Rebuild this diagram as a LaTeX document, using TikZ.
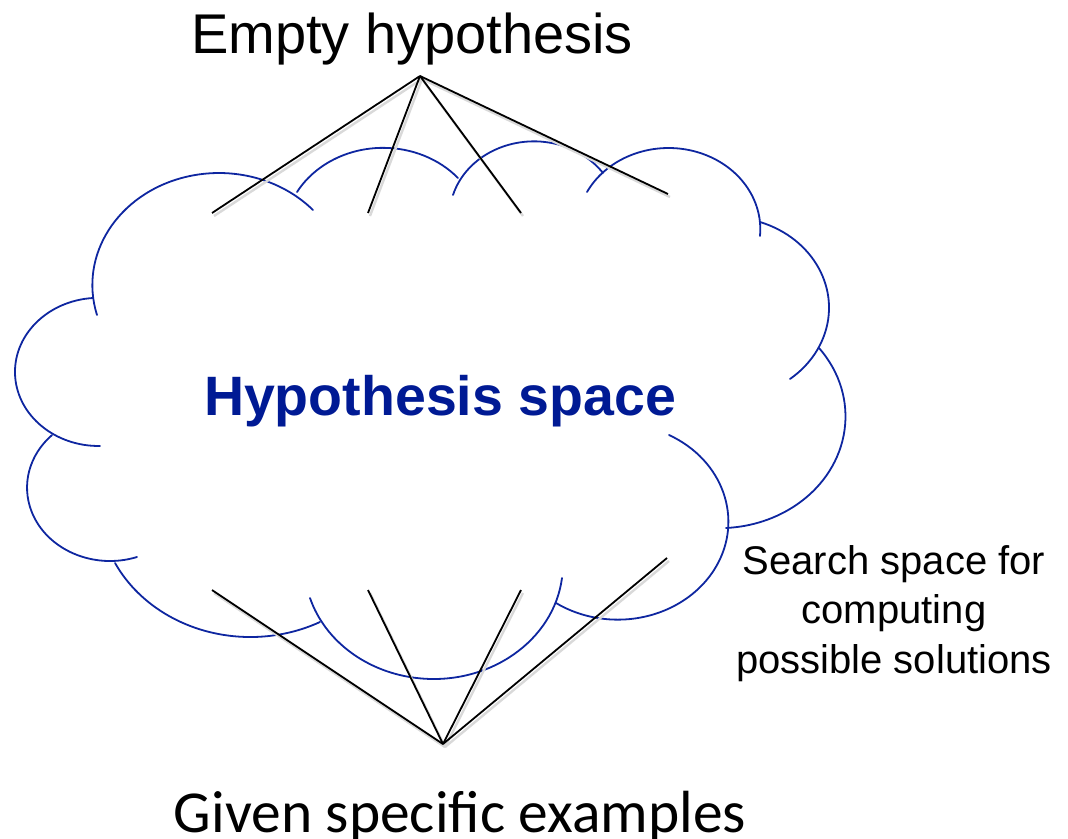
\documentclass[tikz,border=0pt]{standalone}
\usepackage{fontspec}
\setmainfont{Liberation Sans}
\newfontfamily\calibri{Carlito}
\definecolor{cloudblue}{RGB}{14,38,160}
\definecolor{navy}{RGB}{0,26,148}
\def\cpK{1.13}
% elliptical arc (ratio \cpK) through three pixel points
\newcommand\cloudpiece[6]{%
 \pgfmathsetmacro\cpAx{(#3-#1)/(100*\cpK)}%
 \pgfmathsetmacro\cpAy{(#4-#2)/100}%
 \pgfmathsetmacro\cpBx{(#5-#1)/(100*\cpK)}%
 \pgfmathsetmacro\cpBy{(#6-#2)/100}%
 \pgfmathsetmacro\cpD{2*((\cpAx)*(\cpBy)-(\cpAy)*(\cpBx))}%
 \pgfmathsetmacro\cpA{(\cpAx)*(\cpAx)+(\cpAy)*(\cpAy)}%
 \pgfmathsetmacro\cpB{(\cpBx)*(\cpBx)+(\cpBy)*(\cpBy)}%
 \pgfmathsetmacro\cpCx{((\cpBy)*(\cpA)-(\cpAy)*(\cpB))/(\cpD)}%
 \pgfmathsetmacro\cpCy{((\cpAx)*(\cpB)-(\cpBx)*(\cpA))/(\cpD)}%
 \pgfmathsetmacro\cpR{sqrt((\cpCx)*(\cpCx)+(\cpCy)*(\cpCy))}%
 \pgfmathsetmacro\cpTa{atan2(-(\cpCy),-(\cpCx))}%
 \pgfmathsetmacro\cpTb{atan2((\cpAy)-(\cpCy),(\cpAx)-(\cpCx))}%
 \pgfmathsetmacro\cpTc{atan2((\cpBy)-(\cpCy),(\cpBx)-(\cpCx))}%
 \pgfmathsetmacro\cpS{mod((\cpTc)-(\cpTa)+720,360)}%
 \pgfmathsetmacro\cpM{mod((\cpTb)-(\cpTa)+720,360)}%
 \pgfmathsetmacro\cpSw{(\cpM)<(\cpS) ? (\cpS) : (\cpS)-360}%
 \pgfmathsetmacro\cpRx{100*\cpK*(\cpR)}%
 \pgfmathsetmacro\cpRy{100*(\cpR)}%
 \draw[cloudarc] (#1,#2) arc[start angle=\cpTa, delta angle=\cpSw, x radius=\cpRx, y radius=\cpRy];%
}
\begin{document}
\begin{tikzpicture}[x=1pt,y=-1pt,
  cloudarc/.style={draw=cloudblue, line width=1.8pt, line cap=round},
  link/.style={draw=black, line width=1.8pt},
  linkshade/.style={draw=black!15, line width=2.4pt},
  ]
\useasboundingbox (0,0) rectangle (1068,838);

% cloud arcs
\cloudpiece{97}{315}{217}{173}{313}{210}
\cloudpiece{297}{192}{377}{148}{458}{178}
\cloudpiece{453}{195}{523}{142}{603}{173}
\cloudpiece{587}{192}{668}{148}{760}{236}
\cloudpiece{760}{222}{829}{308}{790}{379}
\cloudpiece{819}{348}{834}{463}{726}{528}
\cloudpiece{669}{435}{714}{570}{556}{603}
\cloudpiece{562}{578}{433}{679}{310}{598}
\cloudpiece{320}{622}{247}{637}{115}{563}
\cloudpiece{137}{557}{27}{487}{52}{435}
\cloudpiece{93}{298}{15}{370}{100}{446}

% texts
\node[anchor=base, inner sep=0pt, font=\fontsize{56}{60}\selectfont] (empty) at (412,53) {Empty hypothesis};
\node[anchor=base, inner sep=0pt, text=navy, font=\bfseries\fontsize{55.5}{60}\selectfont] (hspace) at (440,415) {Hypothesis space};
\node[anchor=base, inner sep=0pt, font=\calibri\fontsize{59.5}{64}\selectfont] (given) at (460,832) {Given specific examples};
\node[anchor=base, inner sep=0pt, align=center, font=\fontsize{40}{49.5}\selectfont] (search) at (894,673) {Search space for\\computing\\possible solutions};

% connector points
\coordinate (top) at (420,76);
\coordinate (t1) at (212,213);
\coordinate (t2) at (368,213);
\coordinate (t3) at (521,213);
\coordinate (t4) at (668,194);
\coordinate (bot) at (443,744);
\coordinate (b1) at (212,590);
\coordinate (b2) at (368,590);
\coordinate (b3) at (521,590);
\coordinate (b4) at (667,558);

\foreach \n in {t1,t2,t3,t4}{
  \draw[linkshade] ([shift={(2,3)}]top) -- ([shift={(2,3)}]\n);
}
\foreach \n in {b1,b2,b3,b4}{
  \draw[linkshade] ([shift={(2,3)}]bot) -- ([shift={(2,3)}]\n);
}
\foreach \n in {t1,t2,t3,t4}{
  \draw[link] (top) -- (\n);
}
\foreach \n in {b1,b2,b3,b4}{
  \draw[link] (bot) -- (\n);
}
\end{tikzpicture}
\end{document}
